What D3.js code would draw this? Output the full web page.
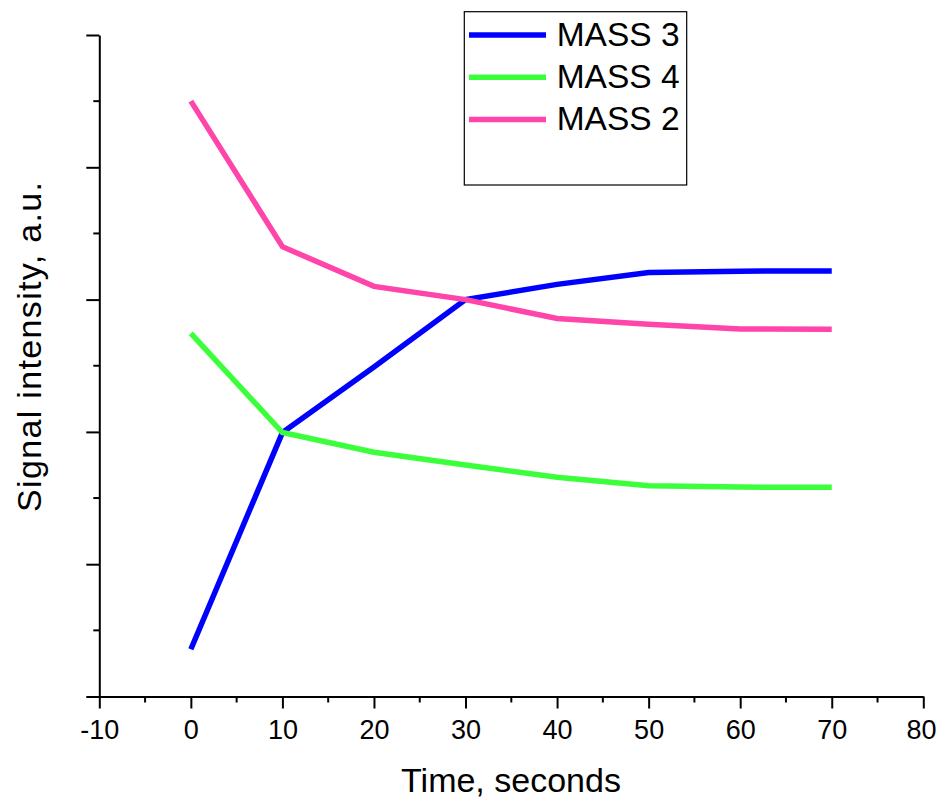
<!DOCTYPE html>
<html>
<head>
<meta charset="utf-8">
<script src="https://cdn.jsdelivr.net/npm/d3@7"></script>
<style>
  html, body { margin: 0; padding: 0; background: #fff; }
  svg { display: block; font-family: Arial, "Liberation Sans", sans-serif; }
</style>
</head>
<body>
<script>
// ---- data ----
const times = [0, 10, 20, 30, 40, 50, 60, 70];
const mass3 = [0.357, 1.995, 2.49, 3.0, 3.115, 3.205, 3.215, 3.216];
const mass4 = [2.745, 1.995, 1.846, 1.75, 1.657, 1.593, 1.583, 1.581];
const mass2 = [4.50, 3.40, 3.10, 3.0, 2.857, 2.813, 2.778, 2.775];
const seriesNames = ["MASS 3", "MASS 4", "MASS 2"];
const seriesColors = ["#0000FF", "#3CFF3C", "#FF44AA"];
const xTicks = [-10, 0, 10, 20, 30, 40, 50, 60, 70, 80];
const yMajor = [0, 1, 2, 3, 4, 5];
const yMinor = [0.5, 1.5, 2.5, 3.5, 4.5];
const xMinor = [-5, 5, 15, 25, 35, 45, 55, 65, 75];

const W = 937, H = 799;
const svg = d3.select("body").append("svg").attr("width", W).attr("height", H);

const x = d3.scaleLinear().domain([-10, 80]).range([99.3, 923.3]);
const y = d3.scaleLinear().domain([0, 5]).range([696.5, 35]);

// axes
const xAxis = svg.append("g").attr("transform", `translate(0,${y(0)})`)
  .call(d3.axisBottom(x).tickValues(xTicks).tickFormat(d => String(d)).tickSize(12).tickPadding(11).tickSizeOuter(0));
xAxis.attr("font-size", 27).attr("font-family", "Arial, 'Liberation Sans', sans-serif");
xAxis.select(".domain").attr("stroke", "#000").attr("stroke-width", 2);
xAxis.selectAll(".tick line").attr("stroke", "#000").attr("stroke-width", 2);
xAxis.selectAll(".tick text").attr("font-size", 27).attr("fill", "#000");
// keep the last label inside the window
xAxis.selectAll(".tick text").filter(d => d === 80)
  .attr("text-anchor", "end").attr("x", W - 1 - x(80));
xAxis.append("g").selectAll("line").data(xMinor).join("line")
  .attr("x1", d => x(d)).attr("x2", d => x(d)).attr("y1", 0).attr("y2", 6)
  .attr("stroke", "#000").attr("stroke-width", 2);

const yAxis = svg.append("g").attr("transform", `translate(${x(-10)},0)`)
  .call(d3.axisLeft(y).tickValues(yMajor).tickFormat("").tickSize(13).tickSizeOuter(0));
yAxis.select(".domain").attr("stroke", "#000").attr("stroke-width", 2);
yAxis.selectAll(".tick line").attr("stroke", "#000").attr("stroke-width", 2);
yAxis.append("g").selectAll("line").data(yMinor).join("line")
  .attr("y1", d => y(d)).attr("y2", d => y(d)).attr("x1", 0).attr("x2", -6)
  .attr("stroke", "#000").attr("stroke-width", 2);

// axis titles
svg.append("text").attr("x", 511).attr("y", 791.5).attr("text-anchor", "middle")
  .attr("font-size", 34).attr("fill", "#000").text("Time, seconds");
svg.append("text").attr("transform", `translate(41,347) rotate(-90)`)
  .attr("text-anchor", "middle").attr("font-size", 34).attr("fill", "#000")
  .attr("textLength", 330).attr("lengthAdjust", "spacing")
  .text("Signal intensity, a.u.");

// lines
const allSeries = [mass3, mass4, mass2];
const line = d3.line().x((d, i) => x(times[i])).y(d => y(d));
svg.append("g").selectAll("path").data(allSeries).join("path")
  .attr("d", d => line(d)).attr("fill", "none")
  .attr("stroke", (d, i) => seriesColors[i]).attr("stroke-width", 5.5)
  .attr("stroke-linejoin", "miter").attr("stroke-linecap", "butt");

// legend
const lg = svg.append("g");
lg.append("rect").attr("x", 464.3).attr("y", 11.7).attr("width", 222.4).attr("height", 173.3)
  .attr("fill", "#fff").attr("stroke", "#000").attr("stroke-width", 1.2);
const items = lg.selectAll("g.item").data(seriesNames).join("g").attr("class", "item")
  .attr("transform", (d, i) => `translate(0,${35 + i * 42.2})`);
items.append("line").attr("x1", 469).attr("x2", 546).attr("y1", 0).attr("y2", 0)
  .attr("stroke", (d, i) => seriesColors[i]).attr("stroke-width", 5.5);
items.append("text").attr("x", 556.7).attr("y", 11).attr("font-size", 33.5).attr("fill", "#000")
  .text(d => d);
</script>
</body>
</html>
